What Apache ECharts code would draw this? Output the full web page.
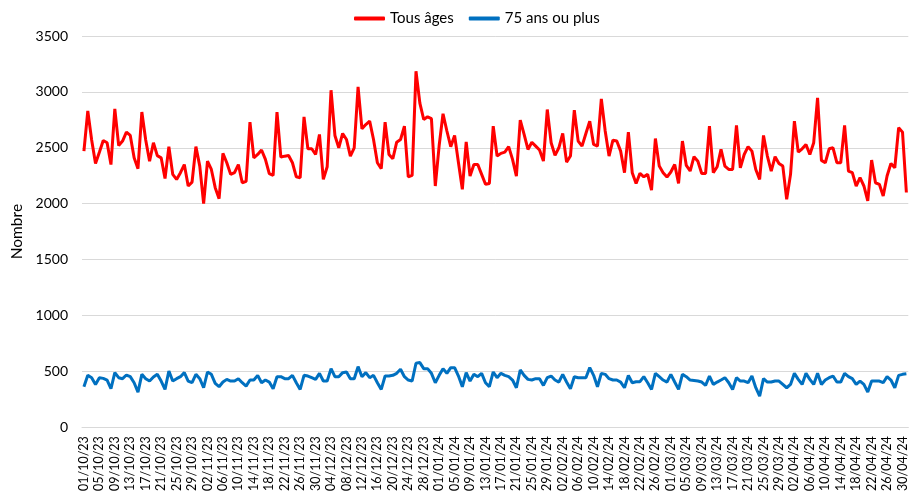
<!DOCTYPE html>
<html>
<head>
<meta charset="utf-8">
<script src="https://cdn.jsdelivr.net/npm/echarts@6/dist/echarts.min.js"></script>
<style>html,body{margin:0;padding:0;background:#fff;}#c{width:909px;height:494px;}</style>
</head>
<body>
<div id="c"></div>
<script>
// Category labels: daily dates from 01/10/23 (214 days)
const startDate = [2023, 9, 1];
const dayCount = 214;
const categories = [];
(function(){
  const d = new Date(Date.UTC(startDate[0], startDate[1], startDate[2]));
  for (let i = 0; i < dayCount; i++) {
    const dd = String(d.getUTCDate()).padStart(2,'0');
    const mm = String(d.getUTCMonth()+1).padStart(2,'0');
    const yy = String(d.getUTCFullYear()).slice(2);
    categories.push(dd + '/' + mm + '/' + yy);
    d.setUTCDate(d.getUTCDate()+1);
  }
})();

const seriesNames = ['Tous âges', '75 ans ou plus'];

const tousAges = [
2470,2830,2570,2360,2460,2565,2545,2350,2848,2520,
2560,2640,2610,2410,2313,2820,2570,2380,2545,2430,
2410,2225,2510,2262,2217,2277,2350,2158,2193,2510,
2336,2000,2380,2306,2143,2045,2450,2366,2262,2277,
2350,2187,2200,2729,2410,2440,2480,2396,2268,2253,
2820,2417,2425,2431,2366,2240,2232,2777,2491,2491,
2440,2619,2217,2330,3015,2610,2500,2628,2574,2426,
2500,3045,2670,2708,2738,2574,2366,2313,2729,2440,
2402,2550,2574,2693,2240,2253,3185,2900,2753,2777,
2760,2158,2520,2804,2650,2510,2610,2366,2128,2553,
2247,2350,2350,2262,2173,2181,2693,2426,2450,2461,
2510,2396,2247,2747,2619,2485,2550,2515,2480,2381,
2842,2545,2432,2500,2628,2372,2426,2836,2560,2515,
2628,2738,2530,2515,2938,2650,2426,2568,2560,2470,
2277,2640,2277,2181,2271,2240,2262,2122,2583,2336,
2277,2238,2283,2350,2181,2560,2342,2292,2420,2380,
2270,2270,2693,2277,2330,2485,2336,2306,2306,2700,
2321,2440,2510,2470,2306,2217,2610,2426,2292,2420,
2360,2336,2039,2262,2738,2461,2491,2530,2440,2545,
2946,2387,2366,2491,2500,2366,2366,2700,2292,2277,
2158,2232,2158,2024,2390,2187,2173,2069,2247,2360,
2321,2679,2640,2100
];

const plus75 = [
362,464,443,383,443,437,422,344,488,443,
434,467,452,398,314,473,434,413,449,473,
413,338,503,413,434,452,488,413,398,473,
434,353,494,473,392,362,404,428,413,413,
434,398,368,422,422,464,398,422,404,344,
452,452,434,434,464,398,338,464,458,443,
428,482,413,413,524,452,452,488,494,434,
434,542,452,488,443,464,398,338,458,458,
464,482,518,452,422,413,572,578,524,524,
482,398,464,524,482,533,533,458,362,488,
413,473,452,482,398,362,494,443,482,464,
452,422,353,512,464,428,422,434,434,374,
443,458,422,404,473,404,344,452,443,443,
443,533,464,362,482,473,434,422,422,404,
353,464,398,407,407,452,398,338,482,452,
422,404,473,404,338,473,452,422,418,413,
404,374,458,383,404,422,443,398,338,443,
413,413,398,458,353,278,434,404,404,413,
413,383,353,383,482,428,383,482,428,383,
482,383,422,443,458,404,404,482,452,434,
383,413,383,314,413,413,413,398,452,422,
353,464,473,478
];

const yTicks = {min: 0, max: 3500, interval: 500};

const FONT = 'Lato, "Open Sans", "Liberation Sans", sans-serif';
const chart = echarts.init(document.getElementById('c'), null, {renderer: 'canvas'});
chart.setOption({
  animation: false,
  backgroundColor: '#ffffff',
  textStyle: {fontFamily: FONT},
  legend: {
    top: 6,
    left: 349,
    itemGap: 15,
    itemWidth: 31,
    itemHeight: 4,
    icon: 'roundRect',
    textStyle: {fontSize: 15, color: '#000', fontFamily: FONT},
    data: seriesNames
  },
  grid: {left: 82, top: 36, width: 831, height: 392, containLabel: false},
  xAxis: {
    type: 'category',
    data: categories,
    boundaryGap: true,
    axisLine: {show: true, lineStyle: {color: '#d9d9d9', width: 1}},
    axisTick: {show: false},
    axisLabel: {interval: 3, rotate: 90, fontSize: 12.5, color: '#000', margin: 9, fontFamily: FONT},
    splitLine: {show: false}
  },
  yAxis: {
    type: 'value',
    min: yTicks.min, max: yTicks.max, interval: yTicks.interval,
    name: 'Nombre',
    nameLocation: 'middle',
    nameGap: 54,
    nameRotate: 90,
    nameTextStyle: {fontSize: 15.5, color: '#000', fontFamily: FONT},
    axisLine: {show: false},
    axisTick: {show: false},
    axisLabel: {fontSize: 14, color: '#000', margin: 14, fontFamily: FONT,
      formatter: function (v) { return String(v); }},
    splitLine: {show: true, lineStyle: {color: '#d9d9d9', width: 1}}
  },
  series: [
    {name: seriesNames[0], type: 'line', data: tousAges, showSymbol: false, symbol: 'none',
     lineStyle: {color: '#ff0000', width: 3}, itemStyle: {color: '#ff0000'}},
    {name: seriesNames[1], type: 'line', data: plus75, showSymbol: false, symbol: 'none',
     lineStyle: {color: '#0070c0', width: 3}, itemStyle: {color: '#0070c0'}}
  ]
});
</script>
</body>
</html>
